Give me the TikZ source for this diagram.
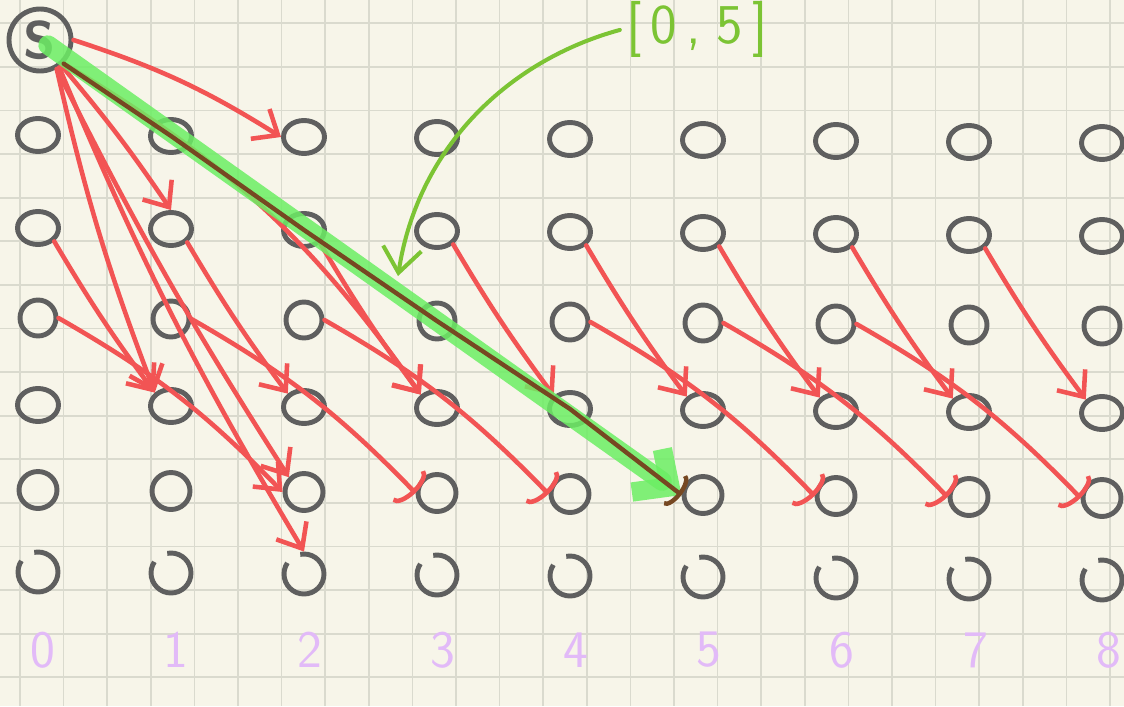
\documentclass[tikz,border=0pt]{standalone}
\usepackage{tikz}
\usetikzlibrary{arrows.meta,shapes.geometric}
\definecolor{pBack}{RGB}{247,245,233}
\definecolor{pGrid}{RGB}{218,218,206}
\definecolor{pGray}{RGB}{95,95,95}
\definecolor{pRed}{RGB}{242,84,84}
\definecolor{pGreen}{RGB}{108,238,100}
\definecolor{pLime}{RGB}{124,196,52}
\definecolor{pBrown}{RGB}{118,72,34}
\definecolor{pViolet}{RGB}{226,186,248}

\tikzset{
  dot/.style={ellipse, draw=pGray, line width=2.8pt, minimum width=0.82cm, minimum height=0.66cm, inner sep=0pt},
  row1/.style={}, row2/.style={}, row4/.style={},
  row3/.style={circle, minimum size=0.72cm},
  row5/.style={minimum width=0.76cm, minimum height=0.74cm},
  row6/.style={circle, minimum size=0.8cm, dash pattern=on 20pt off 9pt on 43pt off 0pt},
  startnode/.style={circle, draw=pGray, line width=2.8pt, minimum size=1.24cm, inner sep=0pt, font=\fontsize{30}{30}\selectfont\sffamily\bfseries, text=pGray},
  collabel/.style={text=pViolet, font=\fontsize{30}{30}\selectfont\sffamily},
  redarrow/.style={pRed, line width=2.6pt, line cap=round, -{Straight Barb[length=12pt,width=20pt]}},
  redarc/.style={pRed, line width=2.6pt, line cap=round, -{Arc Barb[length=6pt,width=26pt]}},
  hilite/.style={pGreen, opacity=0.85, line width=11pt, line cap=round, -{Straight Barb[length=16pt,width=30pt]}},
  brownline/.style={pBrown, line width=2.5pt, line cap=round, line join=round, -{Arc Barb[length=5pt,width=22pt]}},
  limearrow/.style={pLime, line width=2.3pt, line cap=round, -{Straight Barb[length=14pt,width=22pt]}}
}

\begin{document}
\begin{tikzpicture}[x=0.02cm, y=-0.02cm]
  \fill[pBack] (0,0) rectangle (1124,706);
  \useasboundingbox (0,0) rectangle (1124,706);
  \clip (0,0) rectangle (1124,706);

  % paper grid
  \foreach \i in {0,...,25}
    \draw[pGrid, line width=1pt] ({20+43.6*\i},0) -- ++(0,706);
  \foreach \j in {0,...,15}
    \draw[pGrid, line width=1pt] (0,{23.3+43.6*\j}) -- ++(1124,0);

  % states
  \node[startnode] (S) at (40,40) {S};
  \foreach \r/\y in {1/135,2/228,3/318,4/405,5/490,6/572}
    \foreach \c in {0,...,8}
      \node[dot, row\r] (n\c\r) at ({38+133*\c},{\y+\c}) {};

  % positions
  \foreach \c in {0,...,8}
    \node[collabel] (lab\c) at ({43+133.2*\c},650) {\c};

  % moves
  \draw[redarrow] (S.east) to[bend left=7] (n21.west);
  \draw[redarrow] (S.-50) to[bend left=3] (n12.north);
  \draw[redarrow] (S.-60) to[bend right=4] (n14.north west);
  \draw[redarrow] (S.-60) to[bend right=3] (n25.north west);
  \draw[redarrow] (S.-55) to[bend right=4] (n26.north);
  \draw[redarrow] (S.-45) to[bend left=12] (n34.north west);
  \foreach \a/\b in {0/1,1/2,2/3,3/4,4/5,5/6,6/7,7/8}
    \draw[redarrow] (n\a2.south east) to[bend right=3] (n\b4.north west);
  \draw[redarrow] (n03.east) to[bend left=8] (n25.west);
  \foreach \a/\b in {1/3,2/4,4/6,5/7,6/8}
    \draw[redarc] (n\a3.east) to[bend left=8] (n\b5.west);

  % best path
  \draw[hilite] ([shift={(8,5)}]S.center) -- (n55.west);
  \draw[brownline] (S.-45) -- (n11.center) -- (n22.center) -- (n33.center) -- (n44.center) -- (n55.west);

  % set label
  \node[text=pLime, font=\fontsize{32}{32}\selectfont\sffamily, anchor=base] (setlabel) at (697,44) {[\,0\,,\;5\,]};
  \coordinate (pathpt) at (398,276);
  \draw[limearrow] (setlabel.west) .. controls +(-110,30) and +(20,-130) .. (pathpt);
\end{tikzpicture}
\end{document}
